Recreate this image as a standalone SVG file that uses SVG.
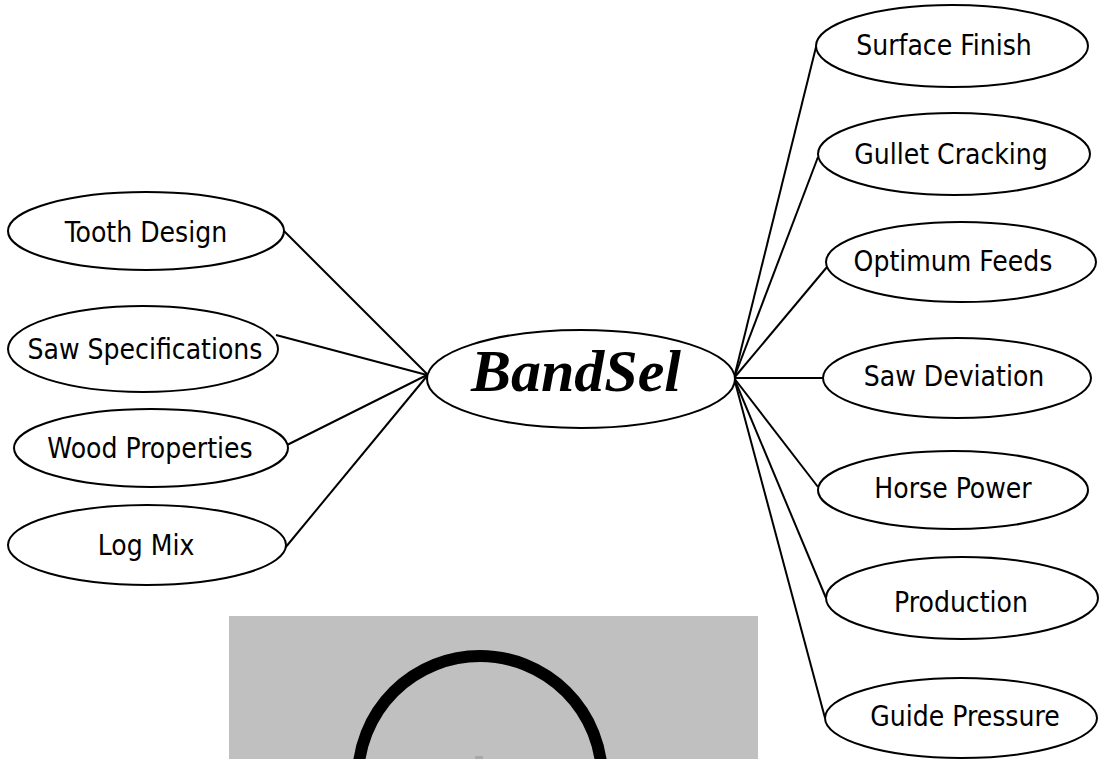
<svg xmlns="http://www.w3.org/2000/svg" width="1099" height="759" viewBox="0 0 1099 759">
<style>
.node ellipse{fill:#fff;stroke:#000;stroke-width:2}
.lbl{font-family:"DejaVu Sans Condensed","DejaVu Sans",sans-serif;font-stretch:condensed;font-size:28px;fill:#000;text-anchor:middle}
.conn line{stroke:#000;stroke-width:2}
.title{font-family:"Liberation Serif",serif;font-weight:bold;font-style:italic;font-size:60px;text-anchor:middle}
</style>
<rect width="1099" height="759" fill="#fff"/>
<g id="picture">
<rect x="229" y="616" width="529" height="143" fill="#c0c0c0"/>
<circle cx="480" cy="778" r="122" fill="none" stroke="#000" stroke-width="12"/>
<rect x="475" y="756" width="8" height="3" fill="#a8a8a8"/>
</g>
<g id="connectors" class="conn">
<line x1="283" y1="230" x2="427" y2="374"/>
<line x1="276" y1="335" x2="427" y2="375"/>
<line x1="287" y1="445" x2="427" y2="375"/>
<line x1="285" y1="548" x2="427" y2="376"/>
<line x1="734" y1="378" x2="816" y2="47"/>
<line x1="734" y1="378" x2="818" y2="157"/>
<line x1="734" y1="378" x2="827" y2="267"/>
<line x1="734" y1="378" x2="823" y2="378" stroke-width="2.5"/>
<line x1="734" y1="378" x2="818" y2="487"/>
<line x1="734" y1="378" x2="826" y2="598"/>
<line x1="734" y1="378" x2="825" y2="718"/>
</g>
<g id="n-tooth" class="node"><ellipse cx="146" cy="231" rx="138" ry="39"/><text class="lbl" x="146" y="242">Tooth Design</text></g>
<g id="n-sawspec" class="node"><ellipse cx="143" cy="349" rx="135" ry="43"/><text class="lbl" x="145" y="359">Saw Specifications</text></g>
<g id="n-wood" class="node"><ellipse cx="151" cy="448" rx="137" ry="39"/><text class="lbl" x="150" y="458">Wood Properties</text></g>
<g id="n-logmix" class="node"><ellipse cx="147" cy="545" rx="139" ry="40"/><text class="lbl" x="146" y="555">Log Mix</text></g>
<g id="n-bandsel" class="node"><ellipse cx="581" cy="379" rx="154" ry="49"/><text class="title" x="576" y="391">BandSel</text></g>
<g id="n-surface" class="node"><ellipse cx="952" cy="46" rx="136" ry="41"/><text class="lbl" x="944" y="55">Surface Finish</text></g>
<g id="n-gullet" class="node"><ellipse cx="954" cy="154" rx="136" ry="41"/><text class="lbl" x="951" y="164">Gullet Cracking</text></g>
<g id="n-feeds" class="node"><ellipse cx="961" cy="262" rx="135" ry="40"/><text class="lbl" x="953" y="271">Optimum Feeds</text></g>
<g id="n-deviation" class="node"><ellipse cx="957" cy="378" rx="134" ry="40"/><text class="lbl" x="954" y="386">Saw Deviation</text></g>
<g id="n-horse" class="node"><ellipse cx="953" cy="490" rx="135" ry="39"/><text class="lbl" x="953" y="498">Horse Power</text></g>
<g id="n-production" class="node"><ellipse cx="962" cy="598" rx="136" ry="41"/><text class="lbl" x="961" y="612">Production</text></g>
<g id="n-guide" class="node"><ellipse cx="961" cy="718" rx="136" ry="40"/><text class="lbl" x="965" y="726">Guide Pressure</text></g>
</svg>
